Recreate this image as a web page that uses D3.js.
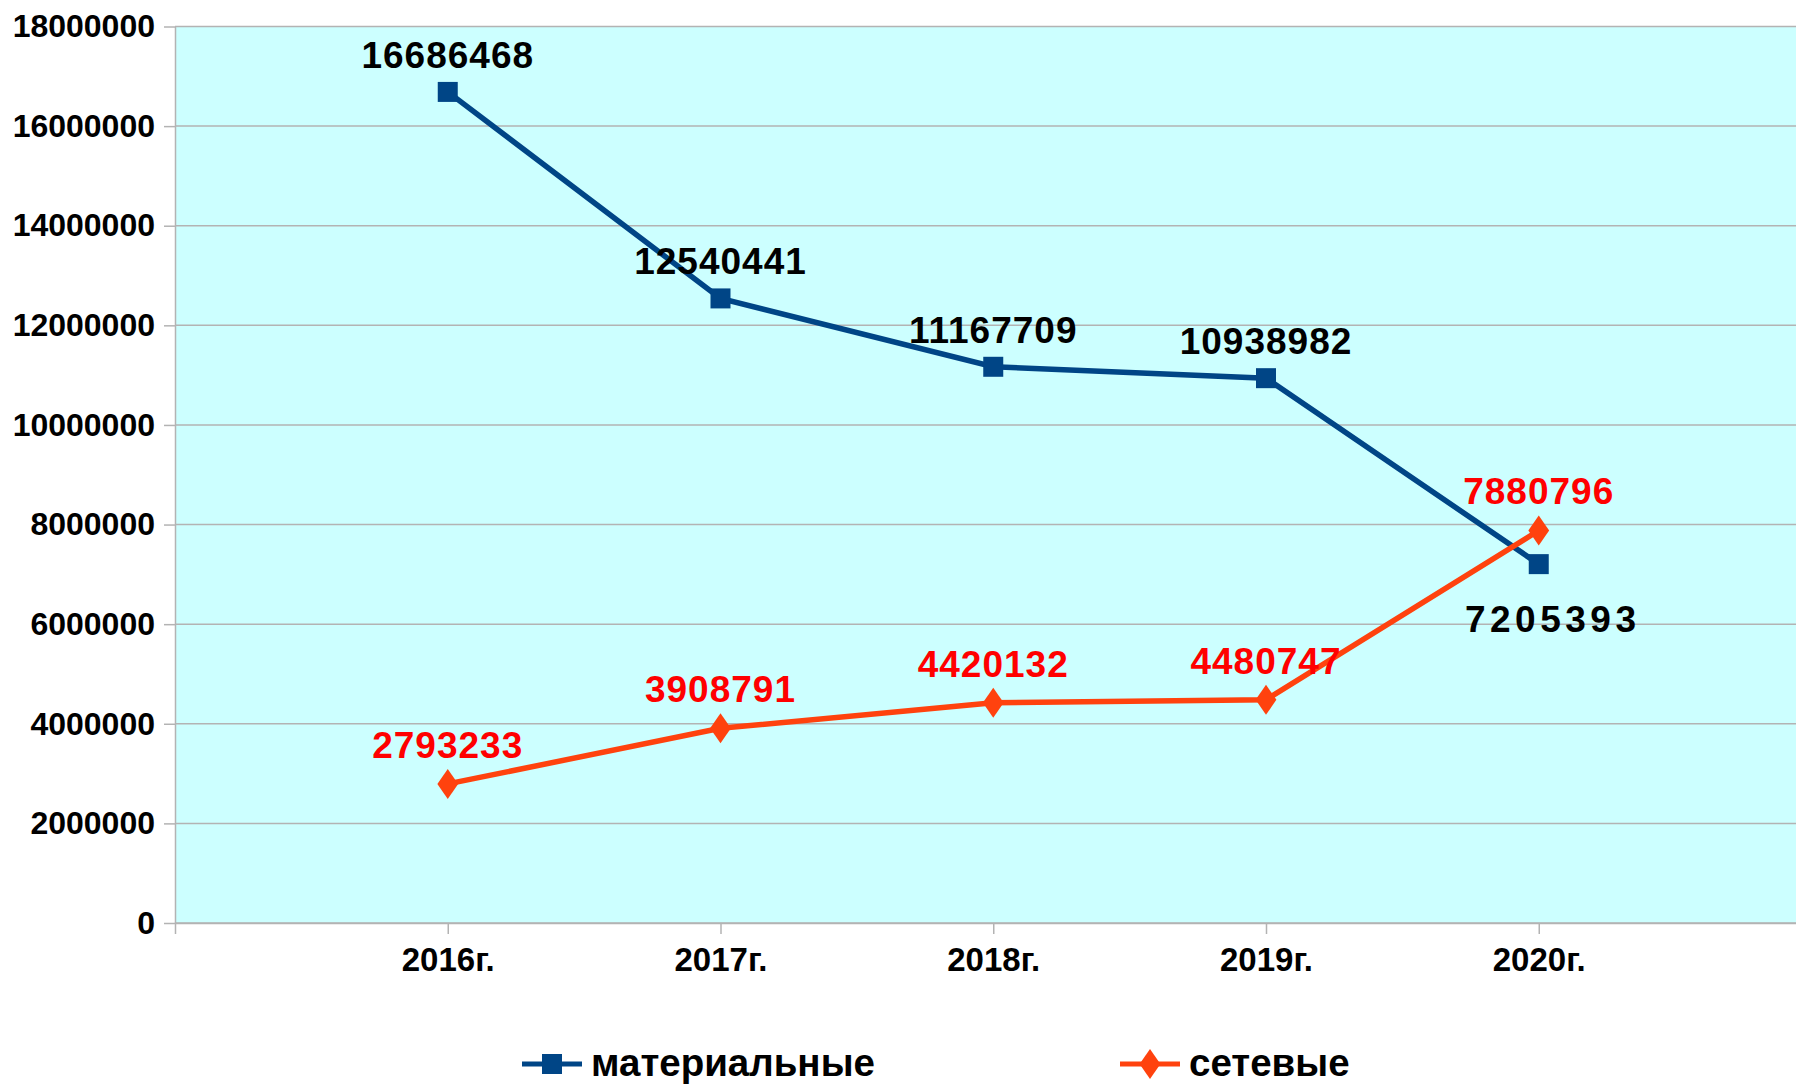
<!DOCTYPE html>
<html>
<head>
<meta charset="utf-8">
<script src="https://cdn.jsdelivr.net/npm/d3@7/dist/d3.min.js"></script>
<style>
  body { margin: 0; background: #fff; }
  text { font-family: "Liberation Sans", Arial, sans-serif; font-weight: bold; }
</style>
</head>
<body>
<svg id="chart" width="1796" height="1085"></svg>
<script>
// chart data
var years = ["2016г.", "2017г.", "2018г.", "2019г.", "2020г."];
var material = [16686468, 12540441, 11167709, 10938982, 7205393];
var network = [2793233, 3908791, 4420132, 4480747, 7880796];
var yTicks = [0, 2000000, 4000000, 6000000, 8000000, 10000000, 12000000, 14000000, 16000000, 18000000];
var seriesNames = ["материальные", "сетевые"];

// colours (LibreOffice defaults)
var blue = "#004586";
var orange = "#ff420e";
var grid = "#b3b3b3";

var svg = d3.select("#chart");

// note: "top" is taken by window.top, so plotTop
var plotLeft = 175, plotTop = 26.5, plotBottom = 923, step = 272.75;
var x = d3.scalePoint().domain(years).range([plotLeft, plotLeft + 6 * step]).padding(1);
var y = d3.scaleLinear().domain([0, 18000000]).range([plotBottom, plotTop]);

// plot background
svg.append("rect")
  .attr("x", plotLeft).attr("y", plotTop)
  .attr("width", 1796 - plotLeft).attr("height", plotBottom - plotTop)
  .attr("fill", "#ccffff");

// horizontal grid
svg.append("g").selectAll("line")
  .data(yTicks)
  .enter().append("line")
  .attr("x1", plotLeft).attr("x2", 1796)
  .attr("y1", function(d) { return y(d); })
  .attr("y2", function(d) { return y(d); })
  .attr("stroke", grid).attr("stroke-width", 1.5);

// y axis
var yAxis = svg.append("g")
  .attr("transform", "translate(" + plotLeft + ",0)")
  .call(d3.axisLeft(y).tickValues(yTicks).tickFormat(d3.format("d")).tickSize(11).tickSizeOuter(0).tickPadding(9));
yAxis.selectAll("path, line").attr("stroke", grid).attr("stroke-width", 1.5);
yAxis.selectAll("text").attr("font-size", 32).attr("fill", "#000")
  .style("font-family", "'Liberation Sans', Arial, sans-serif").style("font-weight", "bold");

// x axis
var xAxis = svg.append("g")
  .attr("transform", "translate(0," + plotBottom + ")")
  .call(d3.axisBottom(x).tickSize(11).tickSizeOuter(11));
xAxis.selectAll("path, line").attr("stroke", grid).attr("stroke-width", 1.5);
xAxis.selectAll("text").attr("font-size", 33).attr("fill", "#000")
  .attr("y", 48).attr("dy", 0)
  .style("font-family", "'Liberation Sans', Arial, sans-serif").style("font-weight", "bold");

var line = d3.line()
  .x(function(d, i) { return x(years[i]); })
  .y(function(d) { return y(d); });

// series lines
svg.append("path").datum(material)
  .attr("d", line).attr("fill", "none")
  .attr("stroke", blue).attr("stroke-width", 5.5);
svg.append("path").datum(network)
  .attr("d", line).attr("fill", "none")
  .attr("stroke", orange).attr("stroke-width", 5.5);

// markers
var sq = d3.symbol().type(d3.symbolSquare).size(400);
var dm = d3.symbol().type(d3.symbolDiamond).size(260);

svg.append("g").selectAll("path")
  .data(material)
  .enter().append("path")
  .attr("d", sq)
  .attr("fill", blue)
  .attr("transform", function(d, i) { return "translate(" + x(years[i]) + "," + y(d) + ")"; });

svg.append("g").selectAll("path")
  .data(network)
  .enter().append("path")
  .attr("d", dm)
  .attr("fill", orange)
  .attr("transform", function(d, i) { return "translate(" + x(years[i]) + "," + y(d) + ") scale(1.2,1)"; });

// data labels
svg.append("g").selectAll("text")
  .data(material)
  .enter().append("text")
  .attr("x", function(d, i) { return x(years[i]); })
  .attr("y", function(d, i) { return i == 4 ? y(d) + 68 : y(d) - 24; })
  .attr("dx", function(d, i) { return i == 4 ? 14 : 0; })
  .attr("text-anchor", "middle")
  .attr("font-size", 37)
  .attr("letter-spacing", function(d, i) { return i == 4 ? 4.5 : 1; })
  .attr("fill", "#000")
  .text(function(d) { return d; });

svg.append("g").selectAll("text")
  .data(network)
  .enter().append("text")
  .attr("x", function(d, i) { return x(years[i]); })
  .attr("y", function(d) { return y(d) - 26; })
  .attr("text-anchor", "middle")
  .attr("font-size", 37)
  .attr("letter-spacing", 1)
  .attr("fill", "#ff0000")
  .text(function(d) { return d; });

// legend
var legendX = [552, 1150];
var legendY = 1064;
var legend = svg.append("g").selectAll("g")
  .data(seriesNames)
  .enter().append("g")
  .attr("transform", function(d, i) { return "translate(" + legendX[i] + "," + legendY + ")"; });

legend.append("line")
  .attr("x1", -30).attr("x2", 30)
  .attr("stroke", function(d, i) { return i == 0 ? blue : orange; })
  .attr("stroke-width", 5);
legend.append("path")
  .attr("d", function(d, i) { return i == 0 ? sq() : dm(); })
  .attr("transform", function(d, i) { return i == 0 ? "" : "scale(1.2,1)"; })
  .attr("fill", function(d, i) { return i == 0 ? blue : orange; });
legend.append("text")
  .attr("x", 39).attr("y", 12)
  .attr("font-size", 38.5)
  .attr("fill", "#000")
  .text(function(d) { return d; });
</script>
</body>
</html>
